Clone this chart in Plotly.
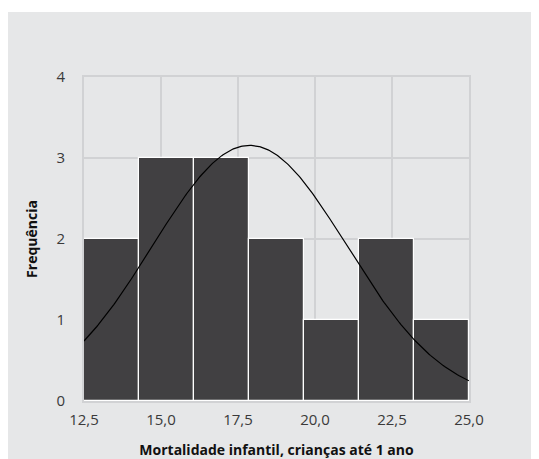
import numpy as np
import plotly.graph_objects as go

# histograma: limites das classes e frequências
bin_edges = [12.5, 14.2857, 16.0714, 17.8571, 19.6429, 21.4286, 23.2143, 25.0]
counts = [2, 3, 3, 2, 1, 2, 1]

# curva normal ajustada (média e desvio padrão)
mean_mort = 17.88
sd_mort = 3.16

x_ticks = [12.5, 15.0, 17.5, 20.0, 22.5, 25.0]
y_ticks = [0, 1, 2, 3, 4]

centers = [(a + b) / 2 for a, b in zip(bin_edges[:-1], bin_edges[1:])]
widths = [b - a for a, b in zip(bin_edges[:-1], bin_edges[1:])]
n = sum(counts)
bw = widths[0]

xs = np.linspace(bin_edges[0], bin_edges[-1], 300)
ys = n * bw * np.exp(-0.5 * ((xs - mean_mort) / sd_mort) ** 2) / (sd_mort * np.sqrt(2 * np.pi))

bg = '#e6e7e8'
grid = '#d1d2d4'

fig = go.Figure()
fig.add_trace(go.Bar(x=centers, y=counts, width=widths,
                     marker_color='#414042',
                     marker_line_color='white', marker_line_width=1.2,
                     hoverinfo='x+y'))
fig.add_trace(go.Scatter(x=xs, y=ys, mode='lines',
                         line=dict(color='black', width=1.2),
                         hoverinfo='skip'))

# fundo cinza com margem branca em cima
fig.add_shape(type='rect', xref='paper', yref='paper',
              x0=-0.3, x1=1.3, y0=-0.3, y1=1.2006,
              fillcolor=bg, line_width=0, layer='below')

fig.update_layout(
    width=531, height=451,
    margin=dict(l=76, r=70, t=69, b=58),
    paper_bgcolor='white', plot_bgcolor=bg,
    separators=',.',
    showlegend=False,
    bargap=0,
    font=dict(family='Open Sans', color='#3a3a3a', size=15),
)
fig.update_xaxes(range=[12.5, 25], tickvals=x_ticks, tickformat='.1f',
                 showgrid=True, gridcolor=grid, gridwidth=2,
                 showline=True, mirror=True, linecolor=grid, linewidth=2,
                 zeroline=False, ticks='', ticklabelstandoff=4, automargin=False,
                 title=dict(text='<b>Mortalidade infantil, crianças até 1 ano</b>',
                            font=dict(size=14, color='#111'), standoff=17))
fig.update_yaxes(range=[0, 4], tickvals=y_ticks,
                 showgrid=True, gridcolor=grid, gridwidth=2,
                 showline=True, mirror=True, linecolor=grid, linewidth=2,
                 zeroline=False, ticks='', ticklabelstandoff=14, automargin=False,
                 title=dict(text='<b>Frequência</b>',
                            font=dict(size=14, color='#111'), standoff=16))

fig.write_html("out.html")
